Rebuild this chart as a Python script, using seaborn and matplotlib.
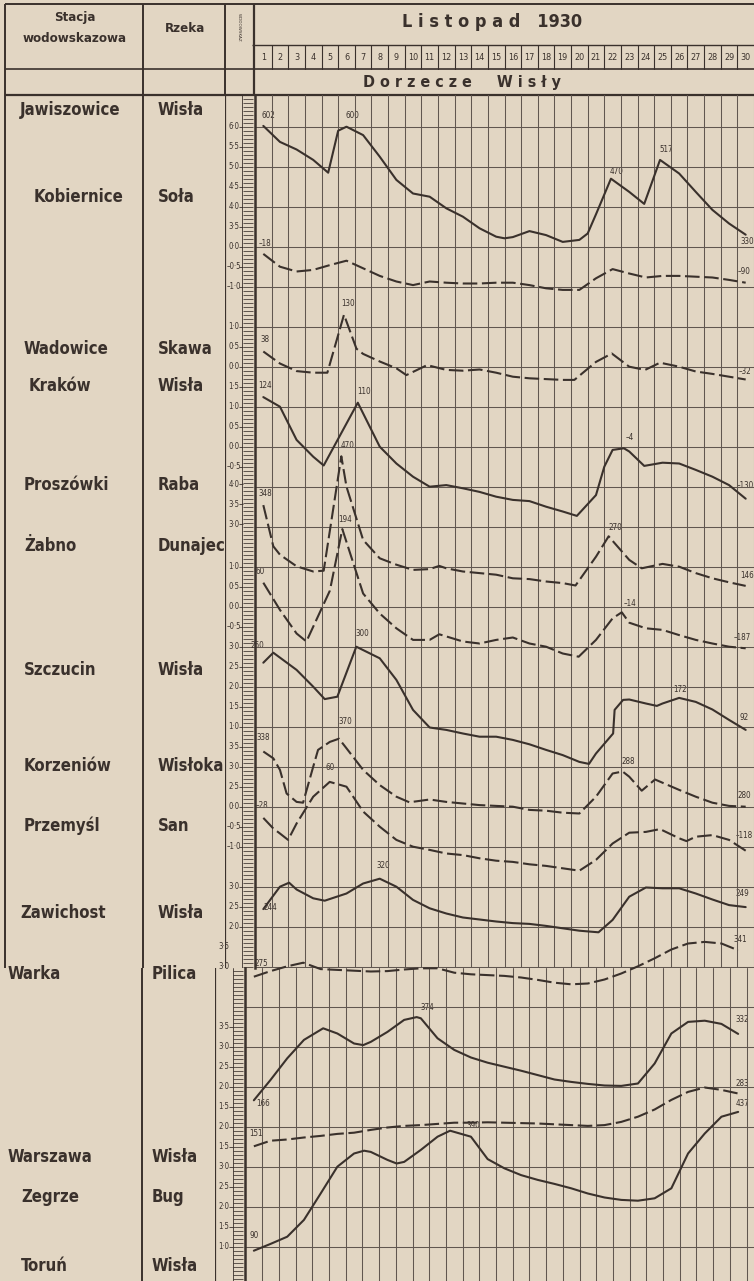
import numpy as np
import pandas as pd
import matplotlib
matplotlib.use("Agg")
import matplotlib.pyplot as plt
import matplotlib.transforms as mtransforms
import seaborn as sns

# ---------------- data (gauge readings in cm, November 1930) ----------------
stations = ["Jawiszowice", "Kobiernice", "Wadowice", "Kraków", "Proszówki", "Żabno",
            "Szczucin", "Korzeniów", "Przemyśl", "Zawichost", "Warka", "Warszawa",
            "Zegrze", "Toruń"]
rivers = ["Wisła", "Soła", "Skawa", "Wisła", "Raba", "Dunajec", "Wisła", "Wisłoka",
          "San", "Wisła", "Pilica", "Wisła", "Bug", "Wisła"]
days = list(range(1, 31))

jaw_days = [1, 2, 3, 4, 4.9, 5.5, 6, 7, 8, 9, 10, 11, 12, 13, 14, 15, 15.5, 16, 17, 18, 19, 20, 20.5,
            21, 21.9, 23, 23.9, 24.85, 26, 27, 28, 29, 30]
jaw_vals = [602, 562, 543, 517, 485, 590, 600, 579, 525, 467, 433, 425, 396, 375, 346, 325, 321, 324,
            339, 329, 312, 317, 333, 381, 470, 437, 407, 517, 483, 437, 392, 358, 330]

kob_days = days
kob_vals = [-18, -50, -62, -58, -46, -35, -54, -73, -87, -96, -87, -90, -92, -92, -90, -90, -96,
            -104, -108, -108, -79, -56, -67, -77, -73, -73, -75, -77, -83, -90]

wad_days = [1, 2, 3, 4, 4.85, 5.85, 6.6, 7, 8, 9, 9.6, 10.85, 12, 13, 14, 15, 16, 17, 18, 19, 19.7,
            21, 21.95, 23, 23.95, 24.85, 26, 27, 28, 29, 30]
wad_vals = [38, 8, -11, -15, -15, 130, 45, 32, 13, -4, -21, 4, -8, -10, -7, -15, -25, -29, -31, -33,
            -33, 12, 33, 0, -8, 10, 0, -12, -18, -25, -32]

kra_days = [1, 2, 3, 4, 4.63, 6.68, 8, 9, 10, 11, 12, 13, 14, 15, 16, 17, 18, 19, 19.85, 21, 21.5,
            22, 22.68, 23, 23.9, 25, 26, 27, 28, 29, 30]
kra_vals = [124, 100, 17, -25, -47, 110, 0, -42, -75, -100, -96, -104, -113, -125, -133, -136, -150,
            -162, -173, -121, -50, -8, -4, -12, -48, -40, -42, -58, -75, -96, -130]

pro_days = [1, 1.6, 2, 3, 4, 4.63, 5.69, 6, 7, 8, 9, 10, 11, 11.58, 12, 13, 14, 15, 16, 17, 18, 19,
            19.77, 21, 21.76, 23, 23.75, 25, 26, 27, 28, 29, 30]
pro_vals = [348, 245, 224, 195, 182, 184, 470, 394, 261, 215, 199, 186, 188, 196, 190, 182, 178, 174,
            165, 163, 157, 153, 147, 219, 270, 211, 190, 201, 194, 178, 165, 155, 146]

zab_days = [1, 2, 3, 3.59, 4, 5, 5.75, 7, 8, 9, 10, 11, 11.58, 13, 14, 15, 16, 17, 18, 19, 19.96,
            21, 22, 22.55, 23, 24, 25, 26, 27, 28, 29, 30]
zab_vals = [60, -8, -67, -87, -50, 40, 194, 33, -17, -54, -83, -83, -69, -87, -92, -83, -77, -92,
            -100, -117, -125, -83, -29, -14, -40, -54, -58, -71, -83, -92, -100, -104]

szc_days = [1, 1.6, 3, 4, 4.69, 5.45, 6.59, 8, 9, 10, 11, 12, 13, 14, 15, 16, 17, 18, 19, 20, 20.58,
            21, 22.03, 22.12, 22.63, 23, 24, 24.66, 25, 26, 27, 28, 29, 30]
szc_vals = [260, 285, 242, 200, 169, 175, 300, 271, 217, 142, 98, 92, 83, 75, 75, 67, 56, 42, 29, 12,
            7, 33, 83, 142, 167, 168, 158, 152, 158, 172, 162, 143, 117, 92]

kor_days = [1, 1.6, 2, 2.4, 3, 3.39, 4, 4.29, 5, 5.55, 6, 7, 8, 9, 9.78, 11, 12, 13, 14, 15, 16, 17,
            18, 19, 20, 21, 22, 22.6, 23, 23.75, 24.55, 26, 27, 28, 29, 30]
kor_vals = [338, 321, 292, 233, 212, 210, 300, 342, 362, 370, 346, 292, 254, 225, 211, 218, 212, 208,
            204, 202, 200, 192, 190, 185, 183, 225, 283, 288, 275, 240, 268, 242, 225, 210, 202, 200]

prz_days = [1, 1.59, 2, 2.49, 3, 4, 4.99, 6, 7, 8, 9, 10, 11, 12, 13, 14, 15, 16, 17, 18, 19, 20, 21,
            22, 23, 24, 24.85, 26, 26.44, 27, 28, 29, 30]
prz_vals = [-28, -54, -67, -83, -42, 25, 62, 50, -12, -50, -83, -100, -108, -117, -121, -129, -135,
            -138, -144, -148, -154, -160, -133, -92, -65, -63, -56, -79, -86, -75, -71, -83, -110]

zaw_days = [1, 2, 2.55, 3, 4, 4.69, 6, 7, 8, 9, 10, 11, 12, 13, 14, 15, 16, 17, 18, 19, 20, 21.15,
            22, 23, 24, 25, 26, 27, 28, 29, 30]
zaw_vals = [244, 300, 310, 293, 271, 265, 283, 308, 320, 300, 267, 246, 233, 223, 218, 213, 209, 207,
            202, 196, 190, 186, 217, 275, 298, 296, 296, 283, 268, 254, 249]

wka_days = [1, 2, 3, 3.96, 5, 6, 7, 8, 9, 10, 11, 12, 13, 14, 15, 16, 17, 18, 19, 20, 21, 22, 23, 24,
            25, 26, 27, 28, 29, 30]
wka_vals = [275, 289, 301, 310, 294, 292, 290, 288, 289, 293, 296, 296, 285, 281, 279, 277, 273, 267,
            260, 256, 258, 268, 283, 301, 321, 343, 358, 362, 358, 341]

wwa_days = [1, 2, 3, 4, 5.15, 6, 7, 7.55, 8, 9, 10, 10.75, 11, 12, 13, 14, 15, 16, 17, 18, 19, 20, 21,
            22, 23, 24, 25, 26, 27, 28, 29, 30]
wwa_vals = [166, 217, 271, 317, 346, 333, 308, 304, 312, 337, 367, 374, 371, 321, 292, 273, 260, 250,
            240, 229, 218, 212, 207, 203, 202, 208, 258, 333, 362, 365, 357, 332]

zeg_days = days
zeg_vals = [151, 165, 168, 173, 177, 182, 185, 192, 198, 202, 204, 207, 210, 210, 211, 210, 209, 208,
            206, 204, 202, 204, 212, 225, 243, 267, 287, 298, 292, 283]

tor_days = [1, 2, 3, 4, 5, 6, 7, 7.6, 8, 9, 9.55, 10, 11, 12, 12.75, 13, 14, 15, 16, 17, 18, 19, 20,
            21, 22, 23, 24, 25, 26, 27, 28, 29, 30]
tor_vals = [90, 107, 125, 167, 233, 300, 333, 340, 337, 317, 308, 312, 342, 375, 390, 387, 375, 319,
            296, 279, 267, 257, 246, 233, 223, 217, 215, 221, 246, 333, 383, 425, 437]

series_days = [jaw_days, kob_days, wad_days, kra_days, pro_days, zab_days, szc_days, kor_days,
               prz_days, zaw_days, wka_days, wwa_days, zeg_days, tor_days]
series_vals = [jaw_vals, kob_vals, wad_vals, kra_vals, pro_vals, zab_vals, szc_vals, kor_vals,
               prz_vals, zaw_vals, wka_vals, wwa_vals, zeg_vals, tor_vals]

# gauge scale labels (metres) for each station
gauge_ticks = [[6.0, 5.5, 5.0, 4.5, 4.0, 3.5], [0.0, -0.5, -1.0], [1.0, 0.5, 0.0],
               [1.5, 1.0, 0.5, 0.0, -0.5], [4.0, 3.5, 3.0], [1.0, 0.5, 0.0, -0.5],
               [3.0, 2.5, 2.0, 1.5, 1.0], [3.5, 3.0, 2.5], [0.0, -0.5, -1.0],
               [3.0, 2.5, 2.0], [3.5, 3.0], [3.5, 3.0, 2.5, 2.0, 1.5], [2.0, 1.5],
               [3.0, 2.5, 2.0, 1.5, 1.0]]

# ---------------- layout ----------------
W, H, DPI = 754, 1281, 100
PAPER = "#e2d6c3"
INK = "#3a312c"
GRID = "#615750"
ROW0_Y, ROW_H, DAY_W = 126.7, 40.0, 16.7
TOP_Y, SPLICE_Y = 95, 968
zero_rows = [6, 3, 6, 8, 12.94, 12, 16, 19, 17, 22, 24, 26, 27, 29]
dashed = [False, True, True, False, True, True, False, True, True, False, True, False, True, False]
lower_panel = [False] * 10 + [True] * 4
name_pos = [(20, 110), (34, 197), (24, 349), (29, 386), (24, 485), (24, 546), (24, 670),
            (24, 766), (24, 826), (20, 913), (8, 974), (8, 1157), (21, 1197), (21, 1266)]
river_x = [158] * 10 + [152] * 4

value_labels = [(268, 116, "602"), (352, 116, "600"), (617, 172, "470"), (666, 149, "517"),
                (747, 241, "330"), (265, 244, "–18"), (744, 272, "–90"), (348, 303, "130"),
                (265, 340, "38"), (745, 371, "–32"), (265, 386, "124"), (364, 391, "110"),
                (630, 437, "–4"), (745, 486, "–130"), (265, 493, "348"), (348, 446, "470"),
                (615, 527, "270"), (747, 576, "146"), (260, 572, "60"), (345, 520, "194"),
                (630, 604, "–14"), (742, 637, "–187"), (257, 645, "260"), (362, 634, "300"),
                (680, 689, "172"), (744, 717, "92"), (263, 738, "338"), (345, 722, "370"),
                (628, 762, "288"), (744, 796, "280"), (262, 805, "–28"), (330, 768, "60"),
                (744, 836, "–118"), (270, 908, "244"), (383, 866, "320"), (742, 894, "249"),
                (261, 963, "275"), (740, 939, "341"), (263, 1104, "166"), (427, 1007, "374"),
                (742, 1020, "332"), (256, 1134, "151"), (742, 1084, "283"), (254, 1235, "90"),
                (473, 1126, "390"), (742, 1104, "437")]

sns.set_theme(style="white")
plt.rcParams["font.family"] = ["DejaVu Sans"]
COND = dict(fontstretch="condensed", fontweight="bold", color=INK)


def row_of(ypx):
    return (ypx - ROW0_Y) / ROW_H


def rect(x0, y0, x1, y1):
    return [x0 / W, 1 - y1 / H, (x1 - x0) / W, (y1 - y0) / H]


fig = plt.figure(figsize=(W / DPI, H / DPI), dpi=DPI)
fig.patch.set_facecolor(PAPER)
bg = fig.add_axes([0, 0, 1, 1], zorder=0)
bg.set_xlim(0, W)
bg.set_ylim(H, 0)
bg.axis("off")

panels = {}
for key, x_left, y0, y1 in [("up", 255, TOP_Y, SPLICE_Y), ("low", 245.5, SPLICE_Y, H)]:
    ax = fig.add_axes(rect(x_left, y0, W, y1), zorder=2)
    ax.set_facecolor("none")
    ax.set_xlim(0.5, 0.5 + (W - x_left) / DAY_W)
    ax.set_ylim(row_of(y1), row_of(y0))
    ax.set_xticks(np.arange(0.5, 31.5, 1.0))
    ax.set_yticks(np.arange(np.ceil(row_of(y0)), np.floor(row_of(y1)) + 1))
    ax.grid(True, color=GRID, lw=0.75)
    ax.tick_params(length=0, labelbottom=False, labelleft=False)
    for s in ["top", "right", "bottom"]:
        ax.spines[s].set_visible(False)
    ax.spines["left"].set_color(INK)
    ax.spines["left"].set_linewidth(1.8)
    panels[key] = ax

# gauge columns
gauges = {}
for key, gx0, gx1, y0, y1 in [("up", 225, 255, TOP_Y, SPLICE_Y), ("low", 215, 245.5, SPLICE_Y, H)]:
    g = fig.add_axes(rect(gx0, y0, gx1, y1), zorder=1)
    g.set_facecolor("none")
    g.set_xlim(0, 1)
    g.set_ylim(row_of(y1), row_of(y0))
    g.axis("off")
    g.axvline(0, color=INK, lw=1.6)
    g.axvline(0.58, color=INK, lw=0.6)
    r = np.arange(np.ceil(row_of(y0) * 10) / 10, row_of(y1), 0.1)
    g.hlines(r, 0.60, 0.93, color=INK, lw=0.55)
    gauges[key] = g

# curves
for i, st in enumerate(stations):
    key = "low" if lower_panel[i] else "up"
    df = pd.DataFrame({"day": series_days[i], "cm": series_vals[i]})
    df["row"] = zero_rows[i] - df["cm"] / 100.0
    sns.lineplot(data=df, x="day", y="row", ax=panels[key], color=INK, lw=1.5,
                 linestyle=(0, (7, 2.2)) if dashed[i] else "-", estimator=None, sort=False,
                 clip_on=False)
    panels[key].set_xlabel("")
    panels[key].set_ylabel("")
    g = gauges[key]
    for t in gauge_ticks[i]:
        rr = zero_rows[i] - t
        lab = f"{t:.1f}".replace(".", "·").replace("-", "–")
        g.text(0.30, rr, lab, ha="center", va="center", fontsize=5.6, color=INK,
               fontstretch="condensed")
        g.hlines(rr, 0.45, 0.6, color=INK, lw=0.6)

for x, y, t in value_labels:
    bg.text(x, y, t, ha="center", va="center", fontsize=5.8, color=INK, fontstretch="condensed",
            zorder=5)

# ---------------- table frame & header ----------------
def hline(y, x0, x1, lw=1.4):
    bg.plot([x0, x1], [y, y], color=INK, lw=lw, solid_capstyle="butt")


def vline(x, y0, y1, lw=1.4):
    bg.plot([x, x], [y0, y1], color=INK, lw=lw, solid_capstyle="butt")


hline(4, 5, W)
hline(45, 252, W, 1.0)
hline(69, 5, W, 1.2)
hline(TOP_Y, 5, W, 1.6)
vline(5, 4, SPLICE_Y, 1.4)
vline(143, 4, SPLICE_Y, 1.4)
vline(225, 4, TOP_Y, 1.4)
vline(254, 4, TOP_Y, 1.6)
vline(142, SPLICE_Y, H, 1.4)

bg.text(75, 17, "Stacja", ha="center", va="center", fontsize=9.5, **COND)
bg.text(75, 38, "wodowskazowa", ha="center", va="center", fontsize=9.5, **COND)
bg.text(185, 28, "Rzeka", ha="center", va="center", fontsize=9.5, **COND)
bg.text(239, 27, "WODOWSKAZ", ha="center", va="center", fontsize=3, rotation=270, color=INK)
bg.text(492, 22, "L i s t o p a d   1930", ha="center", va="center", fontsize=13, **COND)
bg.text(462, 82, "D o r z e c z e     W i s ł y", ha="center", va="center", fontsize=11.5, **COND)

ax_up = panels["up"]
blend = mtransforms.blended_transform_factory(ax_up.transData, bg.transData)
for d in days:
    ax_up.text(d, 57, str(d), transform=blend, ha="center", va="center", fontsize=6.5,
               color=INK, fontstretch="condensed", clip_on=False)
for k in np.arange(1.5, 30.5, 1.0):
    ax_up.plot([k, k], [45, 69], transform=blend, color=INK, lw=0.8, clip_on=False)

for i, st in enumerate(stations):
    x, y = name_pos[i]
    bg.text(x, y, st, ha="left", va="center", fontsize=12, **COND)
    bg.text(river_x[i], y, rivers[i], ha="left", va="center", fontsize=12, **COND)

fig.savefig("out.png", dpi=DPI, facecolor=PAPER)
